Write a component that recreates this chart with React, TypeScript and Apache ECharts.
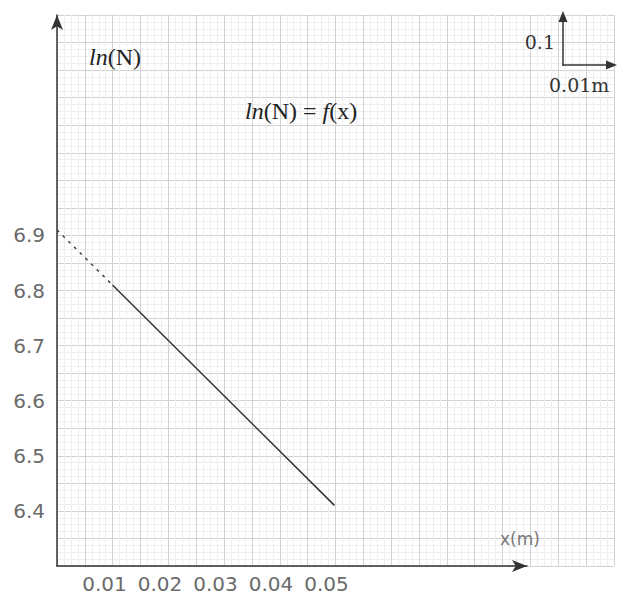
import React, { useEffect, useRef } from "react";
import * as echarts from "echarts";

// Data
const lineX = [0, 0.01, 0.05];
const lineY = [6.91, 6.81, 6.41];
const xTickLabels = ["0.01", "0.02", "0.03", "0.04", "0.05"];
const yTickLabels = ["6.4", "6.5", "6.6", "6.7", "6.8", "6.9"];

const dashedPart = [
  [lineX[0], lineY[0]],
  [lineX[1], lineY[1]],
];
const solidPart = [
  [lineX[1], lineY[1]],
  [lineX[2], lineY[2]],
];

export default function App() {
  const ref = useRef<HTMLDivElement>(null);
  useEffect(() => {
    if (!ref.current) return;
    const chart = echarts.init(ref.current, null, { renderer: "svg" });
    const tickFont = { fontFamily: "DejaVu Sans", fontSize: 20, color: "#6a6a6a" };
    chart.setOption({
      animation: false,
      backgroundColor: "#ffffff",
      grid: [
        { left: 57, right: 5, top: 15, bottom: 39 },
        { left: 57, right: 92, top: 15, bottom: 39 },
      ],
      xAxis: [
        {
          gridIndex: 0,
          type: "value",
          min: 0,
          max: 0.1,
          interval: 0.005,
          axisLine: { show: false },
          axisTick: { show: false },
          axisLabel: { show: false },
          splitLine: { show: true, lineStyle: { color: "#d2d2d2", width: 1 } },
          minorTick: { show: false, splitNumber: 4 },
          minorSplitLine: { show: true, lineStyle: { color: "#eeeeee", width: 1 } },
        },
        {
          gridIndex: 1,
          type: "value",
          min: 0,
          max: 0.0847,
          interval: 0.01,
          axisLine: {
            show: true,
            symbol: ["none", "arrow"],
            symbolSize: [9, 15],
            lineStyle: { color: "#333333", width: 1.5 },
          },
          axisTick: { show: false },
          splitLine: { show: false },
          axisLabel: {
            ...tickFont,
            margin: 8,
            padding: [0, 16, 0, 0],
            showMaxLabel: false,
            formatter: (v: number) => {
              const s = (Math.round(v * 100) / 100).toFixed(2);
              return xTickLabels.includes(s) ? s : "";
            },
          },
        },
      ],
      yAxis: [
        {
          gridIndex: 0,
          type: "value",
          min: 6.3,
          max: 7.3,
          interval: 0.05,
          axisLine: { show: false },
          axisTick: { show: false },
          axisLabel: { show: false },
          splitLine: { show: true, lineStyle: { color: "#d2d2d2", width: 1 } },
          minorTick: { show: false, splitNumber: 4 },
          minorSplitLine: { show: true, lineStyle: { color: "#eeeeee", width: 1 } },
        },
        {
          gridIndex: 1,
          type: "value",
          min: 6.3,
          max: 7.3,
          interval: 0.1,
          axisLine: {
            show: true,
            symbol: ["none", "arrow"],
            symbolSize: [9, 15],
            lineStyle: { color: "#333333", width: 1.5 },
          },
          axisTick: { show: false },
          splitLine: { show: false },
          axisLabel: {
            ...tickFont,
            margin: 12,
            formatter: (v: number) => {
              const s = (Math.round(v * 10) / 10).toFixed(1);
              return yTickLabels.includes(s) ? s : "";
            },
          },
        },
      ],
      series: [
        {
          type: "line",
          xAxisIndex: 1,
          yAxisIndex: 1,
          data: dashedPart,
          symbol: "none",
          z: 5,
          lineStyle: { color: "#444444", width: 1.5, type: [3, 5] },
        },
        {
          type: "line",
          xAxisIndex: 1,
          yAxisIndex: 1,
          data: solidPart,
          symbol: "none",
          z: 5,
          lineStyle: { color: "#333333", width: 1.5 },
        },
      ],
      graphic: [
        {
          type: "text",
          left: 89,
          top: 45,
          z: 100,
          style: {
            text: "{i|ln}(N)",
            font: "24px 'Liberation Serif'",
            fill: "#222",
            rich: {
              i: { fontStyle: "italic", fontFamily: "Liberation Serif", fontSize: 24, fill: "#222" },
            },
          },
        },
        {
          type: "text",
          left: 245,
          top: 99,
          z: 100,
          style: {
            text: "{i|ln}(N) = {i|f}(x)",
            font: "24px 'Liberation Serif'",
            fill: "#222",
            rich: {
              i: { fontStyle: "italic", fontFamily: "Liberation Serif", fontSize: 24, fill: "#222" },
            },
          },
        },
        // scale indicator
        { type: "line", z: 100, shape: { x1: 563, y1: 66, x2: 563, y2: 20 }, style: { stroke: "#333", lineWidth: 1.5 } },
        { type: "polygon", z: 100, shape: { points: [[563, 11], [558.5, 22], [567.5, 22]] }, style: { fill: "#333" } },
        { type: "line", z: 100, shape: { x1: 563, y1: 65, x2: 607, y2: 65 }, style: { stroke: "#333", lineWidth: 1.5 } },
        { type: "polygon", z: 100, shape: { points: [[617, 65], [606, 60.5], [606, 69.5]] }, style: { fill: "#333" } },
        {
          type: "text",
          x: 555,
          y: 42,
          z: 100,
          style: {
            text: "0.1",
            font: "19px 'DejaVu Serif'",
            fill: "#333",
            align: "right",
            verticalAlign: "middle",
          },
        },
        {
          type: "text",
          x: 549,
          y: 85,
          z: 100,
          style: {
            text: "0.01m",
            font: "19px 'DejaVu Serif'",
            fill: "#333",
            align: "left",
            verticalAlign: "middle",
          },
        },
        {
          type: "text",
          x: 500,
          y: 539,
          z: 100,
          style: {
            text: "x(m)",
            font: "17px 'DejaVu Sans'",
            fill: "#777",
            align: "left",
            verticalAlign: "middle",
          },
        },
      ],
    });
    return () => chart.dispose();
  }, []);
  return (
    <div
      ref={ref}
      style={{ position: "absolute", left: 0, top: 0, width: 619, height: 605 }}
    />
  );
}
